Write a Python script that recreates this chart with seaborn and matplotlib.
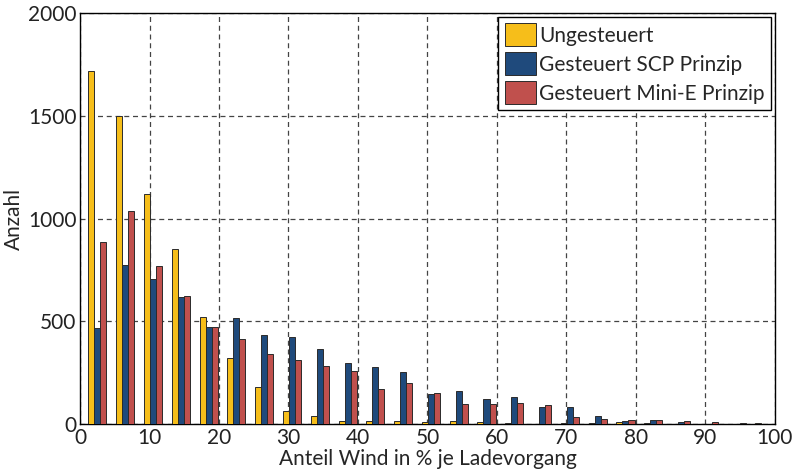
import pandas as pd
import matplotlib.pyplot as plt
import seaborn as sns

# bin centres (4 % wide bins) and counts per charging strategy
centers = [2.5 + 4 * i for i in range(25)]
ungesteuert = [1717, 1497, 1122, 850, 521, 324, 181, 63, 39, 15, 15, 15, 10,
               18, 10, 5, 3, 5, 5, 11, 5, 1, 3, 3, 5]
scp = [468, 774, 706, 620, 471, 515, 432, 423, 367, 296, 278, 254, 149,
       162, 121, 133, 86, 86, 42, 18, 21, 11, 3, 3, 3]
mini_e = [884, 1035, 771, 623, 474, 416, 340, 312, 282, 261, 173, 199, 151,
          100, 97, 103, 94, 35, 27, 21, 21, 16, 11, 5, 3]
series = ['Ungesteuert', 'Gesteuert SCP Prinzip', 'Gesteuert Mini-E Prinzip']
colors = ['#F6BE1A', '#1F4A7C', '#C0504D']

rows = []
for name, vals in zip(series, [ungesteuert, scp, mini_e]):
    for c, v in zip(centers, vals):
        rows.append({'Anteil': c, 'Anzahl': v, 'Serie': name})
df = pd.DataFrame(rows)

sns.set_style('white')
plt.rcParams['font.family'] = ['Lato', 'DejaVu Sans']

fig, ax = plt.subplots(figsize=(7.98, 4.74), dpi=100)
fig.subplots_adjust(left=0.1003, right=0.971, top=0.9726, bottom=0.105)

sns.barplot(data=df, x='Anteil', y='Anzahl', hue='Serie', native_scale=True,
            palette=colors, saturation=1, width=0.65, edgecolor='#2b2b2b',
            linewidth=0.7, ax=ax, zorder=3)

ax.set_xlim(0, 100)
ax.set_ylim(0, 2000)
ax.set_xticks(range(0, 101, 10))
ax.set_yticks(range(0, 2001, 500))
ax.grid(True, linestyle=(0, (4, 3)), color='#444444', linewidth=0.9)
ax.set_axisbelow(True)
for s in ax.spines.values():
    s.set_color('black')
    s.set_linewidth(1.0)
ax.tick_params(axis='both', labelsize=15, length=3, direction='inout',
               width=0.8, pad=1, colors='#222222')
ax.set_xlabel('Anteil Wind in % je Ladevorgang', fontsize=15, labelpad=1)
ax.set_ylabel('Anzahl', fontsize=15, labelpad=3)

leg = ax.legend(loc='upper right', fontsize=15, frameon=True, fancybox=False,
                edgecolor='black', framealpha=1, handlelength=1.5,
                handleheight=1.3, labelspacing=0.3, handletextpad=0.15,
                borderpad=0.3, borderaxespad=0.2, title=None)
leg.get_frame().set_linewidth(1.0)

plt.savefig('out.png', dpi=100)
